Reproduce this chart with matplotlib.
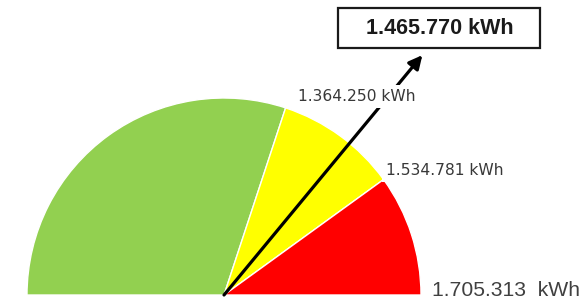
import numpy as np
import matplotlib.pyplot as plt
from matplotlib.patches import Wedge, Rectangle

# gauge thresholds (kWh) and current reading
gauge_min = 850000
thresholds = [1364250, 1534781, 1705313]
band_colors = ['#92D050', '#FFFF00', '#FF0000']
current = 1465770


def fmt(v):
    return '{:,}'.format(v).replace(',', '.')


def angle(v):
    # 180 deg at gauge_min, 0 deg at the top threshold
    return 180.0 * (1 - (v - gauge_min) / (thresholds[-1] - gauge_min))


W, H = 584, 304
cx, cy, R = 224, 295, 197   # centre and radius in pixels

fig = plt.figure(figsize=(W / 100, H / 100), dpi=100)
ax = fig.add_axes([0, 0, 1, 1])
ax.set_xlim(-cx / R, (W - cx) / R)
ax.set_ylim(-(H - cy) / R, cy / R)
ax.axis('off')

# bands of the gauge
edges = [gauge_min] + thresholds
for i in range(len(thresholds)):
    a1 = angle(edges[i + 1])
    a2 = angle(edges[i])
    ax.add_patch(Wedge((0, 0), 1, a1, a2, facecolor=band_colors[i],
                       edgecolor='white', lw=1, zorder=1))

# needle
a = np.radians(angle(current))
L = 1.58
tip = (L * np.cos(a), L * np.sin(a))
ax.annotate('', xy=tip, xytext=(0, 0),
            arrowprops=dict(arrowstyle='-|>', lw=2.3, color='black',
                            mutation_scale=20, shrinkA=0, shrinkB=0),
            zorder=3)

# threshold labels
offsets = [(12, 11), (2, 9), (11, 5)]
for v, off in zip(thresholds[:2], offsets[:2]):
    t = np.radians(angle(v))
    ax.annotate(fmt(v) + ' kWh', xy=(np.cos(t), np.sin(t)), xytext=off,
                textcoords='offset pixels', ha='left', va='center',
                fontsize=11.2, color='#383838', family='DejaVu Sans',
                bbox=dict(boxstyle='square,pad=0.25', fc='white', ec='none'),
                zorder=4)
t = np.radians(angle(thresholds[-1]))
ax.annotate(fmt(thresholds[-1]) + '  kWh', xy=(np.cos(t), np.sin(t)),
            xytext=offsets[2], textcoords='offset pixels', ha='left',
            va='center', fontsize=15.2, color='#404040',
            family='Liberation Sans', zorder=4)

# boxed current value
bx, by = tip[0] + 17 / R, tip[1] + 27 / R
bw, bh = 202 / R, 40 / R
ax.add_patch(Rectangle((bx - bw / 2, by - bh / 2), bw, bh, facecolor='white',
                       edgecolor='#1a1a1a', lw=1.6, zorder=4))
ax.text(bx, by, fmt(current) + ' kWh', ha='center', va='center',
        fontsize=15.5, fontweight='bold', color='#1a1a1a',
        family='Liberation Sans', zorder=5)

fig.savefig('out.png', dpi=100)
